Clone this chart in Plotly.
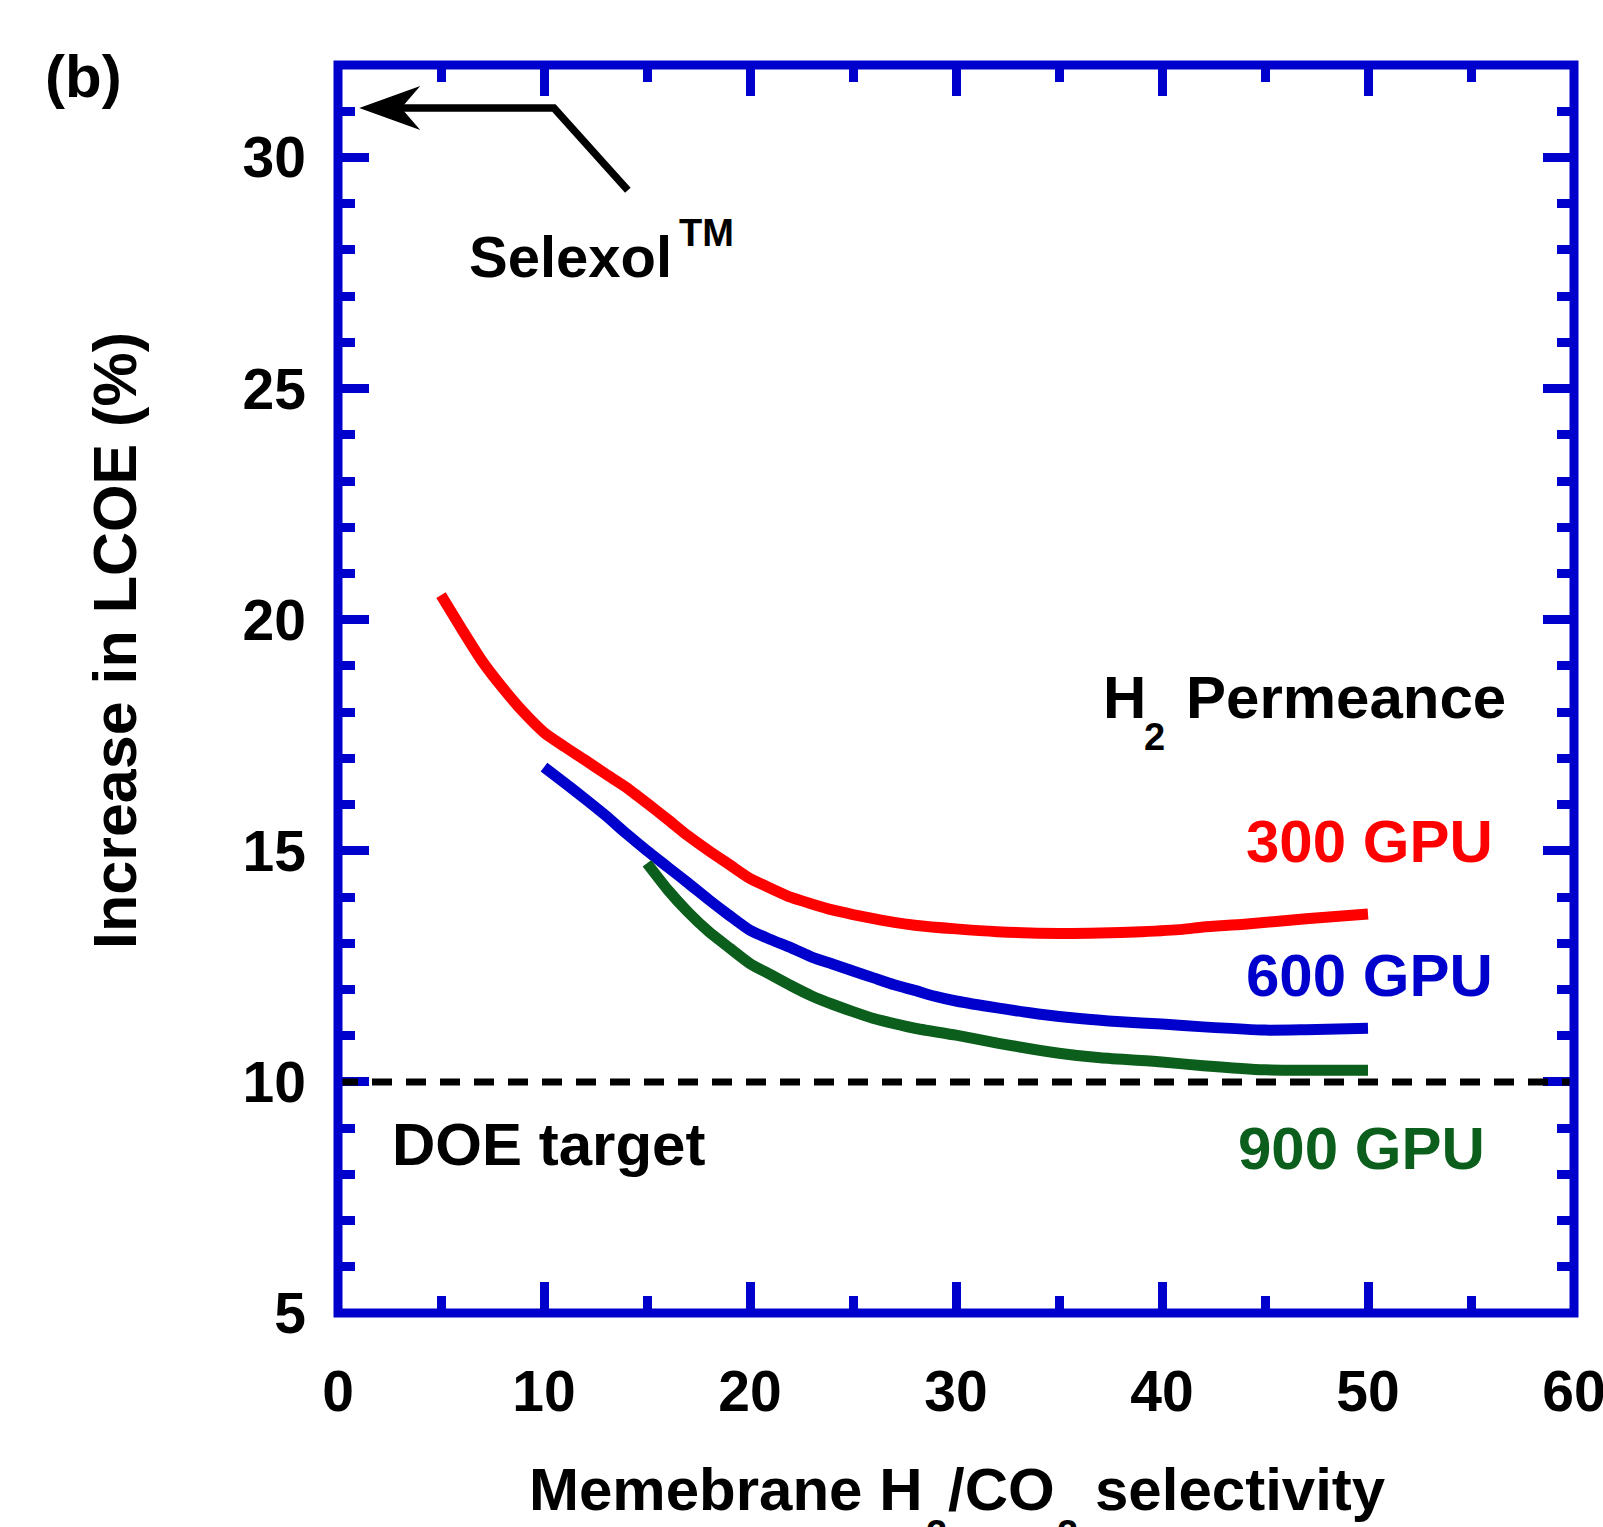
import plotly.graph_objects as go

# ---------------- data ----------------
sel_300 = [5, 6, 7, 8, 9, 10, 11, 12, 13, 14, 15, 16, 17, 18, 19, 20, 21, 22, 23, 24, 25, 26, 27, 28,
           30, 32, 35, 37, 39, 41, 42, 44, 47, 50]
lcoe_300 = [20.53, 19.8, 19.1, 18.52, 18.0, 17.56, 17.25, 16.96, 16.66, 16.37, 16.03, 15.68, 15.32,
            15.0, 14.7, 14.4, 14.19, 13.99, 13.85, 13.72, 13.62, 13.53, 13.45, 13.39,
            13.31, 13.25, 13.21, 13.22, 13.25, 13.3, 13.35, 13.41, 13.53, 13.63]

sel_600 = [10, 11, 12, 13, 14, 15, 16, 17, 18, 19, 20, 21, 22, 23, 24, 25, 26, 27, 28, 29, 30,
           32, 34, 36, 38, 40, 42, 45, 47, 50]
lcoe_600 = [16.81, 16.47, 16.12, 15.76, 15.37, 15.0, 14.65, 14.3, 13.94, 13.6, 13.28, 13.08, 12.9,
            12.7, 12.55, 12.4, 12.25, 12.1, 11.98, 11.85, 11.75, 11.6, 11.47, 11.37, 11.3, 11.25,
            11.19, 11.12, 11.13, 11.16]

sel_900 = [15, 16, 17, 18, 19, 20, 21, 22, 23, 24, 25, 26, 27, 28, 30, 32, 35, 37, 40, 42, 45, 48, 50]
lcoe_900 = [14.73, 14.16, 13.67, 13.25, 12.9, 12.56, 12.32, 12.08, 11.86, 11.68, 11.52, 11.37, 11.26,
            11.16, 11.01, 10.84, 10.62, 10.52, 10.43, 10.35, 10.26, 10.25, 10.25]

doe_target = 10
selexol_level = 31.07

x_ticks = [0, 10, 20, 30, 40, 50, 60]
y_ticks = [5, 10, 15, 20, 25, 30]
x_range = [0, 60]
y_range = [5, 32]

# ---------------- style ----------------
FONT = "Liberation Sans, Arial, Helvetica, sans-serif"
BLUE = "#0000CC"
RED = "#FF0000"
GREEN = "#0B5E1B"

W, H = 1603, 1527
PL, PR, PT, PB = 337.5, 1574.5, 64.5, 1313.0


def px_x(px):
    return (px - PL) / (PR - PL)


def px_y(py):
    return (PB - py) / (PB - PT)


fig = go.Figure()

for xs, ys, col, name in [(sel_300, lcoe_300, RED, "300 GPU"),
                          (sel_600, lcoe_600, BLUE, "600 GPU"),
                          (sel_900, lcoe_900, GREEN, "900 GPU")]:
    fig.add_trace(go.Scatter(x=xs, y=ys, mode="lines", name=name,
                             line=dict(color=col, width=11, shape="spline", smoothing=0.6),
                             showlegend=False))

axis_common = dict(
    ticks="inside", tickwidth=9, tickcolor=BLUE, mirror="ticks", automargin=False,
    showline=False, showgrid=False, zeroline=False, ticklabeloverflow="allow",
    tickfont=dict(family=FONT, size=57, color="black", weight="bold"),
)

fig.update_xaxes(range=x_range, tickvals=x_ticks, ticklen=31,
                 minor=dict(dtick=5, tick0=0, ticks="inside", ticklen=17, tickwidth=9,
                            tickcolor=BLUE, showgrid=False),
                 ticklabelstandoff=40, **axis_common)
fig.update_yaxes(range=y_range, tickvals=y_ticks, ticklen=31,
                 minor=dict(dtick=1, tick0=5, ticks="inside", ticklen=17, tickwidth=9,
                            tickcolor=BLUE, showgrid=False),
                 ticklabelstandoff=31, **axis_common)

# DOE target dashed line
fig.add_shape(type="line", xref="paper", x0=0, x1=1, yref="y", y0=doe_target, y1=doe_target,
              line=dict(color="black", width=7, dash="20px,14px"), layer="above")

# frame
fig.add_shape(type="rect", xref="paper", yref="paper", x0=0, x1=1, y0=0, y1=1,
              line=dict(color=BLUE, width=9), layer="above")

# Selexol arrow
arrow_tip_x = 1.03
fig.add_shape(type="path", xref="x", yref="y",
              path=f"M14.07,29.29 L10.48,{selexol_level} L2.9,{selexol_level}",
              line=dict(color="black", width=7.5), layer="above")
fig.add_shape(type="path", xref="x", yref="y", xsizemode="pixel", ysizemode="pixel",
              xanchor=arrow_tip_x, yanchor=selexol_level,
              path="M0,0 L61,22 L42,0 L61,-22 Z", fillcolor="black",
              line=dict(color="black", width=0), layer="above")


def ann(text, px, py, size, color="black", xanchor="center", yanchor="middle", angle=0):
    fig.add_annotation(text=text, xref="paper", yref="paper", x=px_x(px), y=px_y(py),
                       showarrow=False, xanchor=xanchor, yanchor=yanchor, textangle=angle,
                       font=dict(family=FONT, size=size, color=color, weight="bold"))


ann("(b)", 83, 76, 60)
ann("Selexol", 467, 256, 58, xanchor="left")
ann("TM", 677, 233, 38, xanchor="left")
ann("H", 1101, 697, 60, xanchor="left")
ann("2", 1142, 737, 38, xanchor="left")
ann("Permeance", 1184, 697, 60, xanchor="left")
ann("300 GPU", 1495, 841, 60, color=RED, xanchor="right")
ann("600 GPU", 1495, 975, 60, color=BLUE, xanchor="right")
ann("900 GPU", 1487, 1148, 60, color=GREEN, xanchor="right")
ann("DOE target", 390, 1144, 60, xanchor="left")

# axis titles
ann("Increase in LCOE (%)", 115, 640, 61, angle=-90)
ann("Memebrane H", 527, 1490, 60, xanchor="left")
ann("2", 924, 1534, 38, xanchor="left")
ann("/CO", 946, 1490, 60, xanchor="left")
ann("2", 1055, 1534, 38, xanchor="left")
ann("selectivity", 1093, 1490, 60, xanchor="left")

fig.update_layout(width=W, height=H, autosize=False,
                  margin=dict(l=PL, r=W - PR, t=PT, b=H - PB, pad=0, autoexpand=False),
                  paper_bgcolor="white", plot_bgcolor="white",
                  showlegend=False)

fig.write_html("out.html",
               config={"responsive": False, "displayModeBar": False},
               post_script="document.body.style.margin='0';document.body.style.overflow='hidden';")
